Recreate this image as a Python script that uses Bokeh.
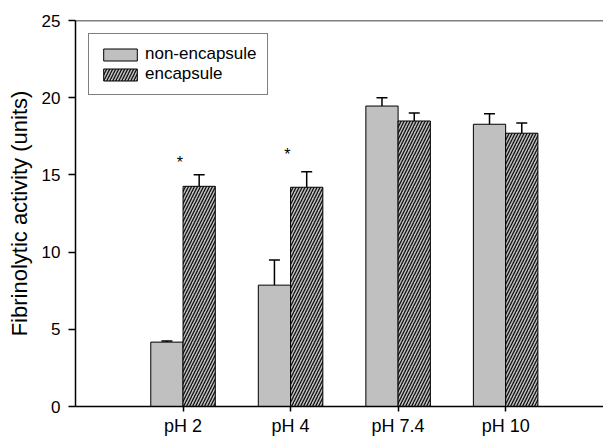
import numpy as np
from bokeh.plotting import figure
from bokeh.models import (ColumnDataSource, FixedTicker, Span, Whisker, TeeHead,
                          Legend, LegendItem)
from bokeh.core.properties import value
from bokeh.embed import file_html
from bokeh.resources import INLINE

# ---- data ----
categories = ["pH 2", "pH 4", "pH 7.4", "pH 10"]
non_encapsule = [4.17, 7.86, 19.46, 18.28]
non_encapsule_err = [0.08, 1.63, 0.53, 0.68]
encapsule = [14.26, 14.20, 18.49, 17.70]
encapsule_err = [0.75, 1.00, 0.52, 0.66]
sig_categories = [0, 1]          # indices of categories marked with "*"
sig_y = [16.1, 16.65]
y_ticks = [0, 5, 10, 15, 20, 25]

FONT = "Liberation Sans"
BAR_W = 0.30

pos = np.arange(1, len(categories) + 1)
ne = np.array(non_encapsule)
en = np.array(encapsule)

src_ne = ColumnDataSource(dict(x=pos - BAR_W / 2, top=ne,
                               upper=ne + np.array(non_encapsule_err)))
src_en = ColumnDataSource(dict(x=pos + BAR_W / 2, top=en,
                               upper=en + np.array(encapsule_err)))

p = figure(width=603, height=438, output_backend="svg", toolbar_location=None,
           x_range=(0, 4.91), y_range=(0, 25),
           min_border_left=75, min_border_top=20, min_border_right=0,
           min_border_bottom=30)
p.outline_line_color = None
p.grid.visible = False
p.background_fill_color = "white"
p.border_fill_color = "white"

# bars
r_ne = p.vbar(x="x", top="top", width=BAR_W, bottom=0, source=src_ne,
              fill_color="#c0c0c0", line_color="black", line_width=1)
r_en = p.vbar(x="x", top="top", width=BAR_W, bottom=0, source=src_en,
              fill_color="#c0c0c0", line_color="black", line_width=1,
              hatch_pattern="/", hatch_color="#111111", hatch_scale=6,
              hatch_weight=1.3)

# error bars (upper only)
for src in (src_ne, src_en):
    w = Whisker(base="x", lower="top", upper="upper", source=src,
                line_color="black", line_width=1.5,
                upper_head=TeeHead(size=11, line_color="black", line_width=1.5),
                lower_head=None)
    p.add_layout(w)

# significance marks
p.text(x=[pos[i] - 0.03 for i in sig_categories], y=sig_y,
       text=["*"] * len(sig_categories), text_font=value(FONT),
       text_font_size="16px", text_align="center", text_baseline="middle",
       text_color="black", y_offset=5)

# top frame line
p.add_layout(Span(location=25, dimension="width", line_color="black",
                  line_width=1.5))

# axes
p.xaxis.ticker = FixedTicker(ticks=list(pos))
p.xaxis.major_label_overrides = {int(i): c for i, c in zip(pos, categories)}
p.xaxis.major_label_text_font = FONT
p.xaxis.major_label_text_font_size = "18px"
p.xaxis.major_label_standoff = 4
p.xaxis.minor_tick_line_color = None
p.xaxis.major_tick_in = 0
p.xaxis.major_tick_out = 5
p.xaxis.axis_line_width = 1.5
p.xaxis.major_tick_line_width = 1.5

p.yaxis.ticker = FixedTicker(ticks=y_ticks)
p.yaxis.major_label_text_font = FONT
p.yaxis.major_label_text_font_size = "17px"
p.yaxis.major_label_standoff = 8
p.yaxis.minor_tick_line_color = None
p.yaxis.major_tick_in = 0
p.yaxis.major_tick_out = 7
p.yaxis.axis_line_width = 1.5
p.yaxis.major_tick_line_width = 1.5
p.yaxis.axis_label = "Fibrinolytic activity (units)"
p.yaxis.axis_label_text_font = FONT
p.yaxis.axis_label_text_font_size = "22px"
p.yaxis.axis_label_text_font_style = "normal"
p.yaxis.axis_label_text_color = "black"
p.yaxis.axis_label_standoff = 7

for ax in (p.xaxis[0], p.yaxis[0]):
    ax.major_label_text_color = "black"
    ax.axis_line_color = "black"
    ax.major_tick_line_color = "black"

legend = Legend(items=[LegendItem(label="non-encapsule", renderers=[r_ne]),
                       LegendItem(label="encapsule", renderers=[r_en])],
                location="top_left", margin=13, padding=10, spacing=0,
                glyph_width=42, glyph_height=15, label_height=17,
                label_standoff=4, label_text_font=FONT,
                label_text_font_size="17px", label_text_color="black",
                border_line_color="black", border_line_width=1,
                background_fill_alpha=1.0)
p.add_layout(legend)

open("out.html", "w").write(file_html(p, INLINE))
